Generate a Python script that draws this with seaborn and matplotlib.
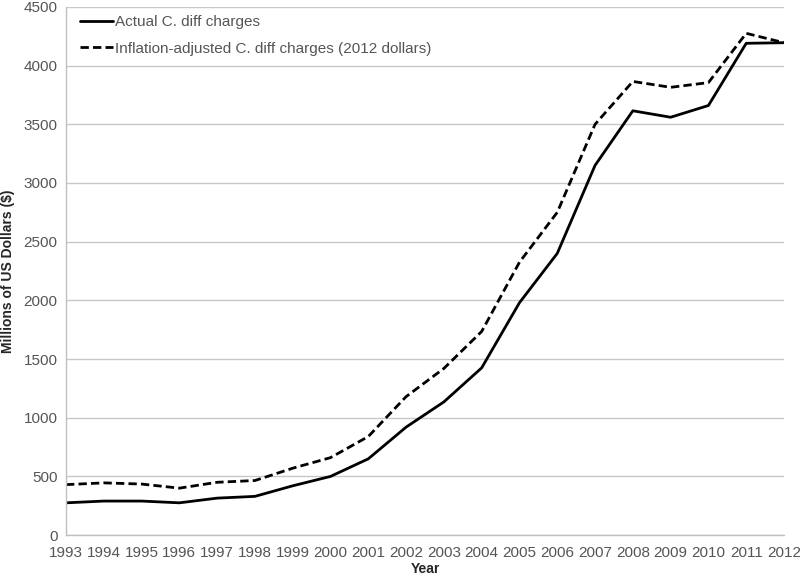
import pandas as pd
import matplotlib
matplotlib.use('Agg')
import matplotlib.pyplot as plt
import seaborn as sns

# Datos (millones de USD)
years = list(range(1993, 2013))
actual = [275, 290, 290, 275, 315, 330, 420, 500, 650, 920,
          1135, 1425, 1980, 2400, 3150, 3615, 3560, 3660, 4190, 4195]
adjusted = [430, 445, 435, 400, 450, 465, 570, 660, 840, 1180,
            1420, 1735, 2325, 2750, 3500, 3865, 3815, 3855, 4275, 4195]

labels = ['Actual C. diff charges', 'Inflation-adjusted C. diff charges (2012 dollars)']

df = pd.DataFrame({'Year': years, labels[0]: actual, labels[1]: adjusted})
df_long = df.melt(id_vars='Year', var_name='Serie', value_name='Valor')

sns.set_style('white')
plt.rcParams['font.family'] = ['Liberation Sans', 'DejaVu Sans']

fig = plt.figure(figsize=(8, 5.76), dpi=100)
ax = fig.add_axes([0.0825, 0.071, 0.8975, 0.917])

sns.lineplot(data=df_long, x='Year', y='Valor', style='Serie',
             dashes={labels[0]: '', labels[1]: (3, 1.5)},
             color='black', linewidth=2, ax=ax)

ax.set_xlim(1993, 2012)
ax.set_ylim(0, 4500)
ax.set_xticks(years)
ax.set_yticks(range(0, 4501, 500))
ax.yaxis.grid(True, color='#c8c8c8', linewidth=1)
ax.set_axisbelow(True)

for s in ['top', 'right']:
    ax.spines[s].set_visible(False)
for s in ['left', 'bottom']:
    ax.spines[s].set_color('#c0c0c0')
    ax.spines[s].set_linewidth(1)

ax.tick_params(axis='x', colors='#c0c0c0', length=4, width=1, labelcolor='#555555', labelsize=11)
ax.tick_params(axis='y', length=0, labelcolor='#555555', labelsize=11, pad=6)

ax.set_xlabel('Year', fontsize=10, fontweight='bold', labelpad=2)
ax.set_ylabel('Millions of US Dollars ($)', fontsize=10, fontweight='bold', labelpad=6)

leg = ax.legend(loc='upper left', frameon=False, fontsize=11, handlelength=2.2,
                handletextpad=0.1, labelspacing=0.8, bbox_to_anchor=(0.0, 1.01))
for t in leg.get_texts():
    t.set_color('#555555')

fig.savefig('out.png', dpi=100)
